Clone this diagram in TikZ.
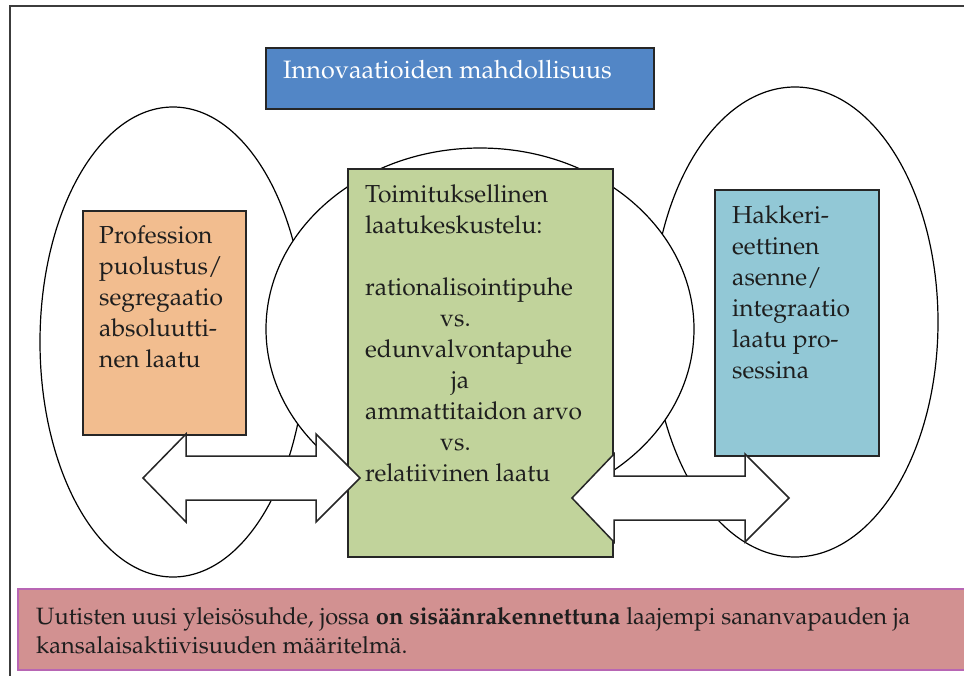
\documentclass[tikz,border=0pt]{standalone}
\usepackage[T1]{fontenc}
\usepackage{tikz,mathpazo}
\usetikzlibrary{calc}
\definecolor{innoblue}{RGB}{82,134,198}
\definecolor{profor}{RGB}{242,189,143}
\definecolor{toimgreen}{RGB}{193,211,155}
\definecolor{hakcyan}{RGB}{146,200,214}
\definecolor{uutpink}{RGB}{210,145,145}
\definecolor{uutline}{RGB}{184,102,180}
\definecolor{boxline}{RGB}{38,38,38}
\definecolor{txtgray}{RGB}{30,30,30}
\tikzset{
  box/.style={draw=boxline, line width=1.5pt, inner sep=0pt, anchor=north west},
  txt/.style={inner sep=0pt, anchor=north west, align=left, text=txtgray,
    font=\fontsize{24.6}{31}\selectfont},
  oval/.style={draw=black, fill=white, line width=1.2pt},
  barrow/.style={draw=boxline, fill=white, line width=1.5pt, line join=miter}
}

\begin{document}
\begin{tikzpicture}[x=1pt,y=-1pt]
    \useasboundingbox (0,0) rectangle (964,675);
    \clip (0,0) rectangle (964,675);
    \fill[white] (0,0) rectangle (964,675);
    \draw [line width =2pt, draw=boxline!90] (10,690) -- (10,6) -- (980,6);
    % ovals behind the boxes
    \draw [oval] (173,342) ellipse [x radius=133, y radius=235];
    \draw [oval] (795,322) ellipse [x radius=143, y radius=235];
    \draw [oval] (480,329) ellipse [x radius=214, y radius=181];
    % boxes
    \node [box, fill=innoblue, minimum width=388, minimum height=61] (innov) at (265,47) {};
    \node [txt, text=white, font=\fontsize{25.2}{31}\selectfont] (innovtext) at (283,78-21.7) {\strut Innovaatioiden mahdollisuus};
    \node [box, fill=profor, minimum width=163, minimum height=224] (prof) at (82,210) {};
    \node [txt] (proftext) at (99,243-21.7) {\strut Profession\\puolustus/\\segregaatio\\absoluutti-\\nen laatu};
    \node [box, fill=hakcyan, minimum width=164, minimum height=266] (hakk) at (714,189) {};
    \node [txt] (hakktext) at (732,223-21.7) {\strut Hakkeri-\\eettinen\\asenne/\\integraatio\\laatu pro-\\sessina};
    \node [box, fill=toimgreen, minimum width=265, minimum height=388] (toim) at (347,168) {};
    \node [txt] (toimtext) at (365,202-21.7) {\strut Toimituksellinen\\laatukeskustelu:\\[31pt]
      rationalisointipuhe\\\hspace*{75pt}vs.\\edunvalvontapuhe\\\hspace*{86pt}ja\\
      ammattitaidon arvo\\\hspace*{75pt}vs.\\relatiivinen laatu};
    % block arrows
    \draw [barrow] (143,478) -- ++(43,-44) -- ++(0,22) -- ++(130,0) -- ++(0,-22) -- ++(44,44)
      -- ++(-44,44) -- ++(0,-22) -- ++(-130,0) -- ++(0,22) -- cycle;
    \draw [barrow] (572,498) -- ++(42,-44) -- ++(0,22) -- ++(131,0) -- ++(0,-22) -- ++(44,44)
      -- ++(-44,44) -- ++(0,-22) -- ++(-131,0) -- ++(0,22) -- cycle;
    % bottom statement
    \node [box, draw=uutline, fill=uutpink, line width=2pt, minimum width=970, minimum height=81] (uut) at (17,588) {};
    \node [txt, font=\fontsize{23.6}{29}\selectfont] (uuttext) at (36,624-20.3) {\strut Uutisten uusi yleisösuhde, jossa \textbf{on sisäänrakennettuna} laajempi sananvapauden ja\\kansalaisaktiivisuuden määritelmä.};
\end{tikzpicture}
\end{document}
